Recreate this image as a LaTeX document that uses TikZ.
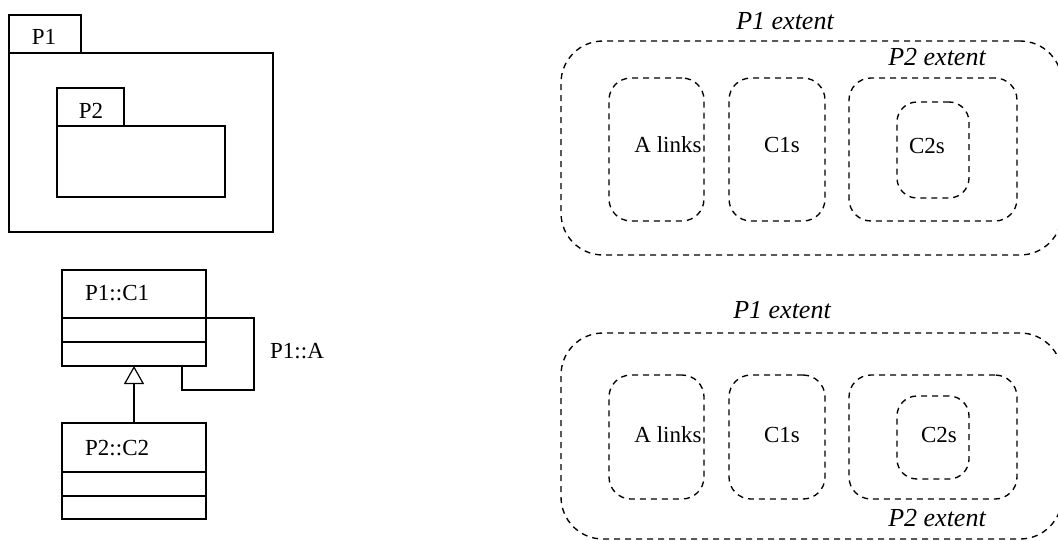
\documentclass[tikz,border=0pt]{standalone}
\usepackage{fontspec}
\setmainfont{Liberation Serif}
\usetikzlibrary{arrows.meta}
\begin{document}
\begin{tikzpicture}[x=1pt,y=-1pt,
  solid box/.style={draw, line width=2pt, inner sep=0pt, outer sep=0pt},
  ext box/.style={draw, line width=1.35pt, dash pattern=on 6pt off 5pt, inner sep=0pt, outer sep=0pt},
  lbl/.style={font=\fontsize{23}{27}\selectfont, inner sep=0pt},
  ilbl/.style={font=\fontsize{26}{30}\selectfont\itshape, inner sep=0pt},
  conn/.style={line width=2pt}
]
\useasboundingbox (0,0) rectangle (1058,541);

% ---------- packages ----------
\node[solid box, minimum width=72pt, minimum height=38pt] (p1tab) at (45,34) {};
\node[solid box, minimum width=264pt, minimum height=179pt] (p1body) at (141,142.5) {};
\node[solid box, minimum width=67pt, minimum height=38pt] (p2tab) at (90.5,107) {};
\node[solid box, minimum width=168pt, minimum height=71pt] (p2body) at (141,161.5) {};
\node[lbl] (p1lbl) at (44,37) {P1};
\node[lbl] (p2lbl) at (91,111) {P2};

% ---------- classes ----------
\node[solid box, minimum width=144pt, minimum height=48pt] (c1name) at (134,294) {};
\node[solid box, minimum width=144pt, minimum height=24pt] (c1attr) at (134,330) {};
\node[solid box, minimum width=144pt, minimum height=24pt] (c1ops) at (134,354) {};
\node[lbl, anchor=west] (c1lbl) at (85,293) {P1::C1};

\node[solid box, minimum width=144pt, minimum height=49pt] (c2name) at (134,447.5) {};
\node[solid box, minimum width=144pt, minimum height=24pt] (c2attr) at (134,484) {};
\node[solid box, minimum width=144pt, minimum height=23pt] (c2ops) at (134,507.5) {};
\node[lbl, anchor=west] (c2lbl) at (85,448) {P2::C2};

% generalization
\draw[conn, -{Triangle[open, length=18pt, width=20pt, line width=1.2pt]}] (c2name.north) -- (c1ops.south);
% self association
\coordinate (assocend) at (182,366);
\draw[conn] (c1name.south east) -- ++(48,0) -- ++(0,72) -| (assocend);
\node[lbl, anchor=west] (assoclbl) at (270,351) {P1::A};

% ---------- upper extents ----------
\node[ext box, rounded corners=42pt, minimum width=501pt, minimum height=214pt] (outer1) at (811.5,148) {};
\node[ext box, rounded corners=22pt, minimum width=95pt, minimum height=143pt] (alinks1) at (656.5,149.5) {};
\node[ext box, rounded corners=22pt, minimum width=96pt, minimum height=143pt] (c1s1) at (777,149.5) {};
\node[ext box, rounded corners=22pt, minimum width=168pt, minimum height=143pt] (p2ext1) at (933,149.5) {};
\node[ext box, rounded corners=20pt, minimum width=72pt, minimum height=96pt] (c2s1) at (933,150) {};
\node[ilbl] (p1ext1lbl) at (785,21) {P1 extent};
\node[ilbl] (p2ext1lbl) at (937,57) {P2 extent};
\node[lbl] (alinks1lbl) at (668,145) {A links};
\node[lbl] (c1s1lbl) at (782,145) {C1s};
\node[lbl] (c2s1lbl) at (927,146) {C2s};

% ---------- lower extents ----------
\node[ext box, rounded corners=42pt, minimum width=501pt, minimum height=206pt] (outer2) at (811.5,436) {};
\node[ext box, rounded corners=22pt, minimum width=95pt, minimum height=124pt] (alinks2) at (656.5,437) {};
\node[ext box, rounded corners=22pt, minimum width=96pt, minimum height=124pt] (c1s2) at (777,437) {};
\node[ext box, rounded corners=22pt, minimum width=168pt, minimum height=124pt] (p2ext2) at (933,437) {};
\node[ext box, rounded corners=20pt, minimum width=72pt, minimum height=83pt] (c2s2) at (933,437.5) {};
\node[ilbl] (p1ext2lbl) at (782,310) {P1 extent};
\node[ilbl] (p2ext2lbl) at (937,518) {P2 extent};
\node[lbl] (alinks2lbl) at (668,435) {A links};
\node[lbl] (c1s2lbl) at (782,435) {C1s};
\node[lbl] (c2s2lbl) at (939,435) {C2s};
\end{tikzpicture}
\end{document}
